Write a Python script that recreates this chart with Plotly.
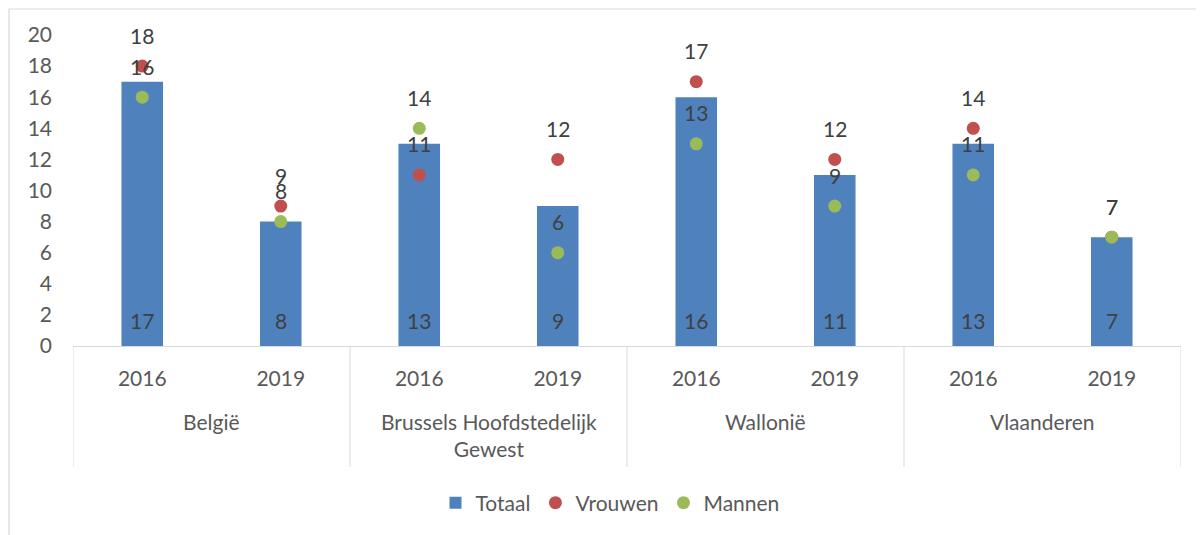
import plotly.graph_objects as go

regions = ["België", "Brussels Hoofdstedelijk<br>Gewest", "Wallonië", "Vlaanderen"]
years = ["2016", "2019"]
totaal = [17, 8, 13, 9, 16, 11, 13, 7]
vrouwen = [18, 9, 11, 12, 17, 12, 14, 7]
mannen = [16, 8, 14, 6, 13, 9, 11, 7]
y_ticks = [0, 2, 4, 6, 8, 10, 12, 14, 16, 18, 20]

BLUE = "#4F81BD"
RED = "#C0504D"
GREEN = "#9BBB59"
AXIS_TXT = "#595959"
LABEL_TXT = "#404040"
GRID = "#D9D9D9"
FONT = "Lato"
FS = 21

# page body has an 8px margin; compensate so screen positions match
OFF = 8
W, H = 1204 - OFF, 535 - OFF

def px(p):
    return (p - OFF) / W

def py(p):
    return (H - (p - OFF)) / H

x_left, x_right = 73, 1181
y_zero_px, y_top_px = 346, 35

n = len(totaal)
xs = list(range(n))
tick_text = [years[i % 2] for i in xs]

fig = go.Figure()
fig.add_trace(go.Bar(x=xs, y=totaal, name="Totaal", marker_color=BLUE, width=0.30,
                     marker_line_width=0))
fig.add_trace(go.Scatter(x=xs, y=vrouwen, name="Vrouwen", mode="markers",
                         marker=dict(color=RED, size=13)))
fig.add_trace(go.Scatter(x=xs, y=mannen, name="Mannen", mode="markers",
                         marker=dict(color=GREEN, size=13)))

annotations = []
for i in xs:
    annotations.append(dict(x=i, y=0, xref="x", yref="y", text=str(totaal[i]),
                            showarrow=False, yshift=26,
                            font=dict(family=FONT, size=FS, color=LABEL_TXT)))
    annotations.append(dict(x=i, y=vrouwen[i], xref="x", yref="y", text=str(vrouwen[i]),
                            showarrow=False, yshift=31,
                            font=dict(family=FONT, size=FS, color=LABEL_TXT)))
    annotations.append(dict(x=i, y=mannen[i], xref="x", yref="y", text=str(mannen[i]),
                            showarrow=False, yshift=31,
                            font=dict(family=FONT, size=FS, color=LABEL_TXT)))

for g, name in enumerate(regions):
    annotations.append(dict(x=2 * g + 0.5, y=py(407), xref="x", yref="paper", text=name,
                            showarrow=False, yanchor="top", xanchor="center",
                            font=dict(family=FONT, size=FS, color=AXIS_TXT)))

shapes = []
for g in range(len(regions) + 1):
    shapes.append(dict(type="line", xref="x", yref="paper", x0=2 * g - 0.5, x1=2 * g - 0.5,
                       y0=py(467), y1=py(y_zero_px), line=dict(color=GRID, width=1)))
shapes.append(dict(type="rect", xref="paper", yref="paper", x0=px(9), x1=1.2,
                   y0=-0.2, y1=1 - 1.0 / H, line=dict(color=GRID, width=1.2), layer="below"))

fig.update_layout(
    width=W, height=H,
    margin=dict(l=0, r=0, t=0, b=0, autoexpand=False),
    paper_bgcolor="white", plot_bgcolor="white",
    font=dict(family=FONT, size=FS, color=AXIS_TXT),
    showlegend=True,
    legend=dict(orientation="h", x=px(610), xanchor="center", y=py(503), yanchor="middle",
                font=dict(family=FONT, size=FS, color=AXIS_TXT), itemwidth=30),
    xaxis=dict(domain=[px(x_left), px(x_right)], range=[-0.5, n - 0.5],
               tickvals=xs, ticktext=tick_text, showgrid=False, zeroline=False,
               showline=True, linecolor=GRID, linewidth=1, ticks="", automargin=False,
               ticklabelstandoff=14, tickfont=dict(family=FONT, size=FS, color=AXIS_TXT)),
    yaxis=dict(domain=[py(y_zero_px), py(y_top_px)], range=[0, 20], tickvals=y_ticks,
               showgrid=False, zeroline=False, showline=False, ticks="", automargin=False,
               ticklabelstandoff=20, tickfont=dict(family=FONT, size=FS, color=AXIS_TXT)),
    annotations=annotations,
    shapes=shapes,
)

fig.write_html("out.html")
